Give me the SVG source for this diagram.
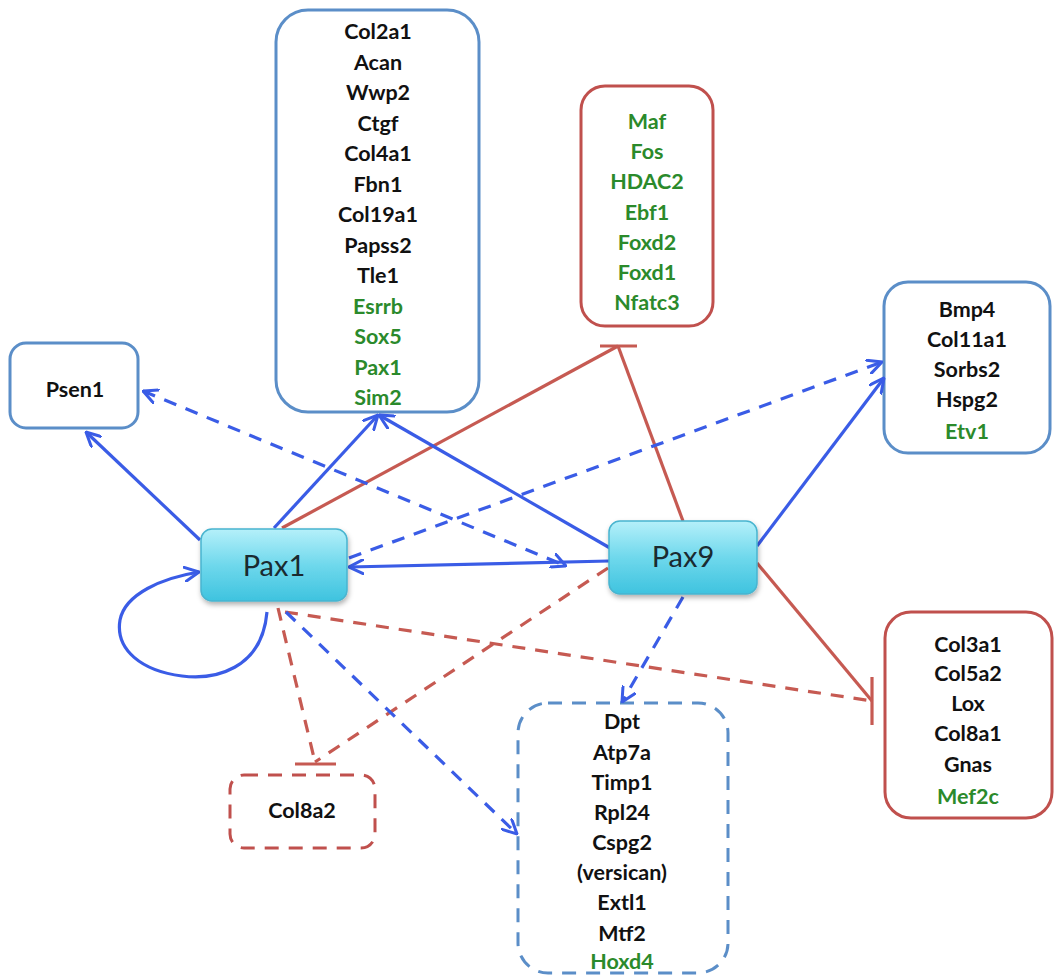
<svg xmlns="http://www.w3.org/2000/svg" width="1055" height="977" viewBox="0 0 1055 977">
  <style>
    .gene { font-family: Lato, "Open Sans", "Liberation Sans", sans-serif; font-weight: bold; font-size: 21.5px; text-anchor: middle; fill: #111; }
    .green { fill: #2b8a2b; }
    .tf { font-family: Lato, "Open Sans", "Liberation Sans", sans-serif; font-size: 29px; text-anchor: middle; fill: #1a2a30; }
    .boxB { fill: #fff; stroke: #5b8ec8; stroke-width: 3; }
    .boxR { fill: #fff; stroke: #c0504d; stroke-width: 3; }
    .dashB { stroke-dasharray: 14 10; }
    .dashR { stroke-dasharray: 14 10; }
    .tfbox { fill: url(#cyan); stroke: #48b4cf; stroke-width: 1.5; filter: url(#shadow); }
    .act { fill: none; stroke: #3a5ce6; stroke-width: 3.2; }
    .inh { fill: none; stroke: #c65a52; stroke-width: 3.2; }
    .dsh { stroke-dasharray: 13 10; }
  </style>
  <defs>
    <linearGradient id="cyan" x1="0" y1="0" x2="0" y2="1">
      <stop offset="0" stop-color="#b5f0fa"/>
      <stop offset="0.5" stop-color="#6fd8ec"/>
      <stop offset="1" stop-color="#3ec3df"/>
    </linearGradient>
    <filter id="shadow" x="-20%" y="-20%" width="140%" height="150%">
      <feDropShadow dx="1" dy="3" stdDeviation="2.5" flood-color="#000" flood-opacity="0.3"/>
    </filter>
    <marker id="arrB" viewBox="0 0 16 16" refX="15" refY="8" markerWidth="16" markerHeight="16" markerUnits="userSpaceOnUse" orient="auto-start-reverse">
      <path d="M1,1 L15,8 L1,15" fill="none" stroke="#3a5ce6" stroke-width="3" stroke-linecap="round"/>
    </marker>
  </defs>

  <!-- target boxes -->
  <g id="cartilage">
    <rect class="boxB" x="276" y="10" width="203" height="402" rx="32"/>
    <text class="gene" x="378" y="39">Col2a1</text>
    <text class="gene" x="378" y="69.5">Acan</text>
    <text class="gene" x="378" y="100">Wwp2</text>
    <text class="gene" x="378" y="130.5">Ctgf</text>
    <text class="gene" x="378" y="161">Col4a1</text>
    <text class="gene" x="378" y="191.5">Fbn1</text>
    <text class="gene" x="378" y="222">Col19a1</text>
    <text class="gene" x="378" y="252.5">Papss2</text>
    <text class="gene" x="378" y="283">Tle1</text>
    <text class="gene green" x="378" y="313.5">Esrrb</text>
    <text class="gene green" x="378" y="344">Sox5</text>
    <text class="gene green" x="378" y="374.5">Pax1</text>
    <text class="gene green" x="378" y="405">Sim2</text>
  </g>
  <g id="tf-targets">
    <rect class="boxR" x="581" y="86" width="132" height="240" rx="24"/>
    <text class="gene green" x="647" y="129">Maf</text>
    <text class="gene green" x="647" y="159">Fos</text>
    <text class="gene green" x="647" y="189">HDAC2</text>
    <text class="gene green" x="647" y="220">Ebf1</text>
    <text class="gene green" x="647" y="250">Foxd2</text>
    <text class="gene green" x="647" y="280">Foxd1</text>
    <text class="gene green" x="647" y="310">Nfatc3</text>
  </g>
  <g id="psen1">
    <rect class="boxB" x="10" y="343" width="128" height="85" rx="16"/>
    <text class="gene" x="75" y="397">Psen1</text>
  </g>
  <g id="bmp4">
    <rect class="boxB" x="884" y="282" width="166" height="171" rx="24"/>
    <text class="gene" x="967" y="317">Bmp4</text>
    <text class="gene" x="967" y="347">Col11a1</text>
    <text class="gene" x="967" y="377">Sorbs2</text>
    <text class="gene" x="967" y="407">Hspg2</text>
    <text class="gene green" x="967" y="439">Etv1</text>
  </g>
  <g id="collagen">
    <rect class="boxR" x="885" y="612" width="167" height="206" rx="26"/>
    <text class="gene" x="968" y="652">Col3a1</text>
    <text class="gene" x="968" y="681">Col5a2</text>
    <text class="gene" x="968" y="711">Lox</text>
    <text class="gene" x="968" y="741">Col8a1</text>
    <text class="gene" x="968" y="772">Gnas</text>
    <text class="gene green" x="968" y="804">Mef2c</text>
  </g>
  <g id="col8a2">
    <rect class="boxR dashR" x="230" y="775" width="145" height="73" rx="14"/>
    <text class="gene" x="302" y="818">Col8a2</text>
  </g>
  <g id="matrix">
    <rect class="boxB dashB" x="518" y="703" width="210" height="270" rx="30"/>
    <text class="gene" x="622" y="729">Dpt</text>
    <text class="gene" x="622" y="760">Atp7a</text>
    <text class="gene" x="622" y="790">Timp1</text>
    <text class="gene" x="622" y="820">Rpl24</text>
    <text class="gene" x="622" y="850">Cspg2</text>
    <text class="gene" x="622" y="880">(versican)</text>
    <text class="gene" x="622" y="910">Extl1</text>
    <text class="gene" x="622" y="941">Mtf2</text>
    <text class="gene green" x="622" y="969">Hoxd4</text>
  </g>

  <!-- connectors -->
  <g id="connectors">
    <!-- repression, red -->
    <path class="inh" d="M282,528 L618,346"/>
    <path class="inh" d="M683,521 L618,346"/>
    <path class="inh" d="M600,346 H637"/>
    <path class="inh" d="M757,563 L872,701"/>
    <path class="inh" d="M872,677 V725"/>
    <path class="inh dsh" d="M285,612 L872,701"/>
    <path class="inh dsh" d="M278,608 L315,762"/>
    <path class="inh dsh" d="M608,568 L315,762"/>
    <path class="inh" d="M295,764 H336"/>

    <!-- activation, blue -->
    <path class="act" d="M200,540 L86,432" marker-end="url(#arrB)"/>
    <path class="act" d="M274,528 L378,415" marker-end="url(#arrB)"/>
    <path class="act" d="M610,548 L379,415" marker-end="url(#arrB)"/>
    <path class="act" d="M609,561 L349,567" marker-end="url(#arrB)"/>
    <path class="act" d="M757,546 L884,378" marker-end="url(#arrB)"/>
    <path class="act" d="M267,612 C262,670 214,680 182,676 C142,671 115,650 120,620 C125,594 162,578 199,572" marker-end="url(#arrB)"/>
    <path class="act dsh" d="M143,391 L566,566" marker-start="url(#arrB)" marker-end="url(#arrB)"/>
    <path class="act dsh" d="M349,558 L882,362" marker-end="url(#arrB)"/>
    <path class="act dsh" d="M683,597 L622,702" marker-end="url(#arrB)"/>
    <path class="act dsh" d="M286,612 L517,834" marker-end="url(#arrB)"/>
  </g>

  <!-- regulators -->
  <g id="pax1">
    <rect class="tfbox" x="201" y="529" width="146" height="72" rx="11"/>
    <text class="tf" x="274" y="576">Pax1</text>
  </g>
  <g id="pax9">
    <rect class="tfbox" x="609" y="521" width="148" height="73" rx="11"/>
    <text class="tf" x="683" y="567">Pax9</text>
  </g>
</svg>
